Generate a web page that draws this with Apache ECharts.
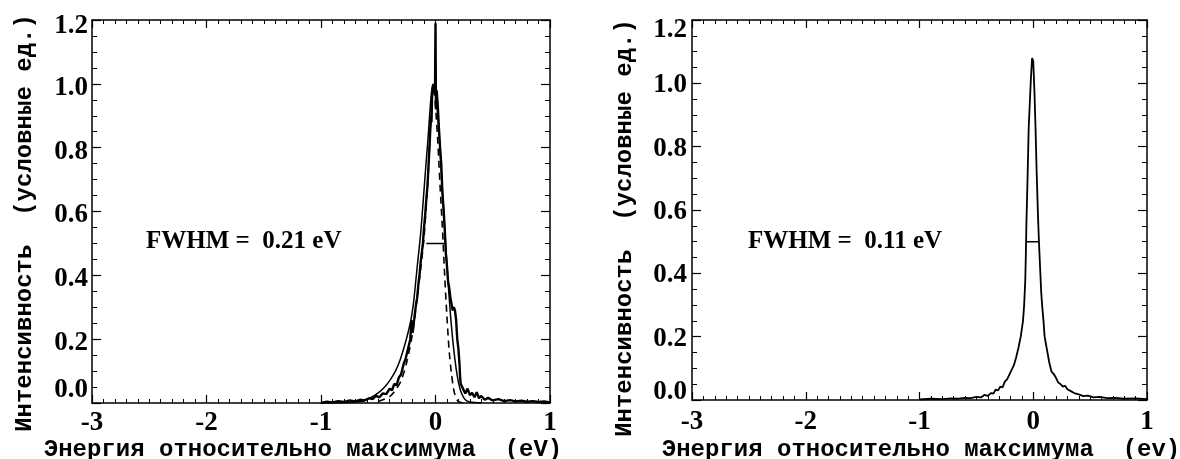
<!DOCTYPE html>
<html>
<head>
<meta charset="utf-8">
<script src="https://cdn.jsdelivr.net/npm/echarts@6/dist/echarts.min.js"></script>
<style>
    html, body { margin: 0; padding: 0; background: #fff; }
    #chart { width: 1180px; height: 459px; }
</style>
</head>
<body>
<div id="chart"></div>
<script>
// axis ranges and ticks
const xRange = [-3, 1];
const yRange = [0, 1.2];
const fwhmLevel = 0.5;

// left panel: measured spectrum (jagged)
const leftExpX = [-1.0, -0.95, -0.9, -0.85, -0.8, -0.75, -0.7, -0.66, -0.62, -0.58, -0.55, -0.52, -0.49, -0.46, -0.43,
    -0.40, -0.38, -0.36, -0.34, -0.32, -0.30, -0.28, -0.26, -0.24, -0.22, -0.21, -0.20, -0.19, -0.18, -0.17, -0.16,
    -0.15, -0.14, -0.13, -0.12, -0.11, -0.10, -0.09, -0.08, -0.07, -0.06, -0.05, -0.04, -0.035, -0.03, -0.02, -0.01,
    -0.004, 0.0, 0.004, 0.01, 0.02, 0.03, 0.04, 0.05, 0.06, 0.07, 0.08, 0.09, 0.10, 0.11, 0.12, 0.13, 0.14, 0.15,
    0.16, 0.17, 0.18, 0.19, 0.20, 0.21, 0.215, 0.22, 0.24, 0.26, 0.28, 0.30, 0.32, 0.34, 0.36, 0.38, 0.40, 0.43,
    0.46, 0.50, 0.55, 0.60, 0.65, 0.70, 0.75, 0.80, 0.85, 0.90, 0.95, 1.0];
const leftExpY = [0.0, 0.004, 0.002, 0.006, 0.003, 0.008, 0.005, 0.01, 0.008, 0.015, 0.012, 0.022, 0.018, 0.03, 0.028,
    0.045, 0.04, 0.06, 0.055, 0.08, 0.09, 0.12, 0.14, 0.17, 0.2, 0.26, 0.22, 0.25, 0.28, 0.31, 0.33,
    0.37, 0.4, 0.44, 0.47, 0.5, 0.55, 0.59, 0.64, 0.68, 0.75, 0.82, 0.9, 0.88, 0.96, 1.0, 0.97,
    0.99, 1.19, 0.92, 0.98, 0.93, 0.86, 0.8, 0.75, 0.66, 0.61, 0.55, 0.47, 0.43, 0.38, 0.36, 0.33, 0.31, 0.29,
    0.3, 0.29, 0.26, 0.2, 0.17, 0.12, 0.08, 0.06, 0.045, 0.03, 0.045, 0.025, 0.032, 0.018, 0.034, 0.015, 0.022, 0.01,
    0.016, 0.008, 0.012, 0.006, 0.009, 0.005, 0.007, 0.004, 0.006, 0.003, 0.005, 0.002];

// left panel: smooth fit (solid)
const leftFitX = [-1.0, -0.8, -0.7, -0.63, -0.56, -0.5, -0.45, -0.4, -0.35, -0.31, -0.27, -0.24, -0.21, -0.19, -0.16,
    -0.13, -0.107, -0.085, -0.063, -0.042, -0.025, -0.01, 0.01, 0.03, 0.05, 0.07, 0.09, 0.11, 0.13, 0.15, 0.17,
    0.19, 0.21, 0.23, 0.26, 0.3, 0.4];
const leftFitY = [0, 0.001, 0.003, 0.006, 0.018, 0.032, 0.048, 0.07, 0.1, 0.134, 0.18, 0.22, 0.27, 0.32, 0.426,
    0.53, 0.635, 0.74, 0.84, 0.945, 0.995, 0.99, 0.94, 0.85, 0.73, 0.61, 0.49, 0.38, 0.28, 0.2, 0.135,
    0.085, 0.05, 0.028, 0.01, 0.003, 0];

// left panel: narrower fit (dashed)
const leftDashX = [-0.5, -0.4, -0.35, -0.3, -0.25, -0.2, -0.16, -0.13, -0.1, -0.07, -0.05, -0.03, -0.02, -0.01, 0.0,
    0.02, 0.04, 0.06, 0.08, 0.10, 0.12, 0.14, 0.16, 0.18, 0.2, 0.24];
const leftDashY = [0.005, 0.02, 0.04, 0.07, 0.13, 0.22, 0.33, 0.42, 0.52, 0.68, 0.82, 0.95, 0.98, 0.97, 0.93,
    0.82, 0.68, 0.55, 0.4, 0.27, 0.16, 0.09, 0.04, 0.015, 0.005, 0];

const leftFwhmX = [-0.08, 0.08];

// right panel: measured spectrum
const rightExpX = [-1.0, -0.9, -0.8, -0.72, -0.66, -0.6, -0.55, -0.5, -0.46, -0.43, -0.40, -0.37, -0.35, -0.33, -0.31,
    -0.29, -0.27, -0.25, -0.23, -0.21, -0.19, -0.17, -0.15, -0.13, -0.11, -0.09, -0.08, -0.07, -0.065, -0.06, -0.05,
    -0.04, -0.03, -0.02, -0.01, 0.0, 0.01, 0.02, 0.03, 0.04, 0.05, 0.06, 0.07, 0.08, 0.09, 0.10, 0.11, 0.12, 0.14,
    0.16, 0.18, 0.20, 0.22, 0.24, 0.26, 0.28, 0.30, 0.33, 0.36, 0.40, 0.44, 0.48, 0.53, 0.58, 0.65, 0.72, 0.8, 0.9, 1.0];
const rightExpY = [0.002, 0.004, 0.003, 0.005, 0.004, 0.007, 0.006, 0.01, 0.008, 0.016, 0.013, 0.022, 0.02, 0.033, 0.03,
    0.042, 0.04, 0.058, 0.065, 0.08, 0.095, 0.11, 0.135, 0.165, 0.2, 0.25, 0.3, 0.38, 0.46, 0.56, 0.7,
    0.86, 0.94, 1.02, 1.08, 1.07, 0.98, 0.86, 0.72, 0.6, 0.5, 0.42, 0.34, 0.29, 0.25, 0.2, 0.18, 0.16, 0.12,
    0.09, 0.082, 0.07, 0.055, 0.05, 0.042, 0.045, 0.034, 0.028, 0.022, 0.018, 0.012, 0.014, 0.008, 0.01, 0.006, 0.007, 0.004, 0.005, 0.003];

const rightFwhmX = [-0.057, 0.046];

const pairs = (xs, ys) => xs.map((x, i) => [x, ys[i]]);

const monoFont = '"Liberation Mono", "DejaVu Sans Mono", monospace';
const serifFont = '"Liberation Serif", "DejaVu Serif", serif';
const tickFontSize = 27;

function xAxes(gridIndex, margin) {
    const base = {
        type: "value",
        gridIndex: gridIndex,
        min: xRange[0],
        max: xRange[1],
        interval: 1,
        splitLine: { show: false },
        axisLine: { onZero: false, lineStyle: { color: "#000", width: 1.5 } },
        axisTick: { inside: true, length: 8, lineStyle: { color: "#000", width: 1.2 } },
        minorTick: { show: true, splitNumber: 10, length: 4, lineStyle: { color: "#000", width: 1 } },
    };
    return [
        Object.assign({}, base, {
            position: "bottom",
            axisLabel: { color: "#000", fontFamily: serifFont, fontWeight: "bold", fontSize: tickFontSize, margin: margin },
        }),
        Object.assign({}, base, { position: "top", axisLabel: { show: false } }),
    ];
}

function yAxes(gridIndex, shifts) {
    const base = {
        type: "value",
        gridIndex: gridIndex,
        min: yRange[0],
        max: yRange[1],
        interval: 0.2,
        splitLine: { show: false },
        axisLine: { onZero: false, lineStyle: { color: "#000", width: 1.5 } },
        axisTick: { inside: true, length: 9, lineStyle: { color: "#000", width: 1.2 } },
        minorTick: { show: true, splitNumber: 4, length: 5, lineStyle: { color: "#000", width: 1 } },
    };
    const tokenStyle = pad => ({ fontFamily: serifFont, fontWeight: "bold", fontSize: tickFontSize, color: "#000", padding: pad });
    return [
        Object.assign({}, base, {
            position: "left",
            axisLabel: {
                margin: shifts.margin,
                formatter: function (v) {
                    const s = v.toFixed(1);
                    if (Math.abs(v) < 1e-6) return "{z|" + s + "}";
                    if (Math.abs(v - yRange[1]) < 1e-6) return "{t|" + s + "}";
                    return "{a|" + s + "}";
                },
                rich: {
                    a: tokenStyle([shifts.mid * 2, 0, 0, 0]),
                    t: tokenStyle([shifts.top * 2, 0, 0, 0]),
                    z: tokenStyle([0, 0, shifts.zero * 2, 0]),
                },
            },
        }),
        Object.assign({}, base, { position: "right", axisLabel: { show: false } }),
    ];
}

function lineSeries(data, xi, yi, width, dashed, smooth) {
    return {
        type: "line",
        xAxisIndex: xi,
        yAxisIndex: yi,
        data: data,
        showSymbol: false,
        symbol: "none",
        smooth: smooth,
        lineStyle: { color: "#000", width: width, type: dashed ? [7, 5] : "solid" },
        z: 3,
    };
}

function axisText(text, x, y, vertical) {
    return {
        type: "text",
        x: x,
        y: y,
        rotation: vertical ? Math.PI / 2 : 0,
        style: {
            text: text,
            fill: "#000",
            font: "bold 24px " + monoFont,
            align: "center",
            verticalAlign: "middle",
        },
    };
}

function noteText(text, x, y) {
    return {
        type: "text",
        x: x,
        y: y,
        style: {
            text: text,
            fill: "#000",
            font: "bold 25px " + serifFont,
            align: "left",
            verticalAlign: "middle",
        },
    };
}

const chart = echarts.init(document.getElementById("chart"));

const option = {
    animation: false,
    backgroundColor: "#fff",
    grid: [
        { left: 92, top: 20, width: 458, height: 383 },
        { left: 692, top: 20, width: 455, height: 380 },
    ],
    xAxis: xAxes(0, 7).concat(xAxes(1, 9)),
    yAxis: yAxes(0, { margin: 4, mid: 4, top: 6, zero: 13 }).concat(yAxes(1, { margin: 5, mid: 2, top: 10, zero: 8 })),
    series: [
        lineSeries(pairs(leftFitX, leftFitY), 0, 0, 1.5, false, 0.3),
        lineSeries(pairs(leftDashX, leftDashY), 0, 0, 1.6, true, 0.3),
        lineSeries(pairs(leftExpX, leftExpY), 0, 0, 2.4, false, false),
        lineSeries(leftFwhmX.map(x => [x, fwhmLevel]), 0, 0, 1.5, false, false),
        lineSeries(pairs(rightExpX, rightExpY), 2, 2, 1.8, false, false),
        lineSeries(rightFwhmX.map(x => [x, fwhmLevel]), 2, 2, 1.5, false, false),
    ],
    graphic: [
        axisText("Интенсивность  (условные ед.)", 25, 223, true),
        axisText("Энергия относительно максимума  (eV)", 303, 450, false),
        axisText("Интенсивность  (условные ед.)", 625, 228, true),
        axisText("Энергия относительно максимума  (ev)", 921, 450, false),
        noteText("FWHM =  0.21 eV", 146, 242),
        noteText("FWHM =  0.11 eV", 748, 242),
    ],
};

chart.setOption(option);
</script>
</body>
</html>
